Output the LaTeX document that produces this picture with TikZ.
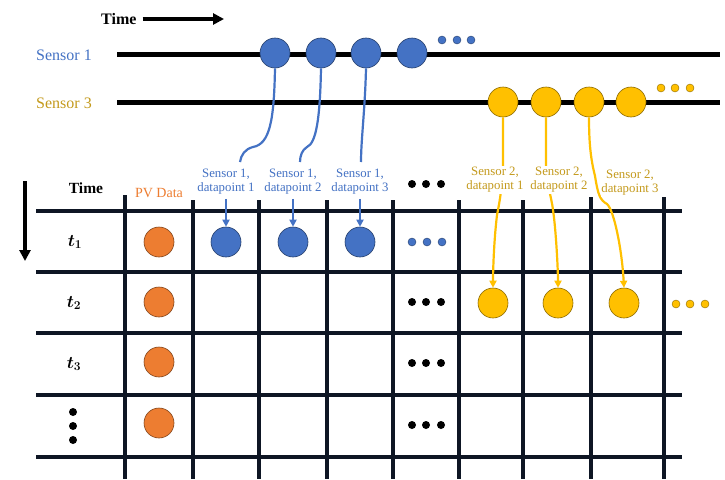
\documentclass[tikz,border=0pt]{standalone}
\usepackage{fontspec}
\setmainfont{Liberation Serif}
\usepackage{bm}
\usetikzlibrary{arrows.meta}
\definecolor{sblue}{HTML}{4472C4}
\definecolor{sorange}{HTML}{ED7D31}
\definecolor{syellow}{HTML}{FFC000}
\definecolor{sgold}{HTML}{C49A1C}
\definecolor{gridc}{HTML}{0E1624}
\tikzset{
  bigdot/.style={circle, minimum size=30pt, inner sep=0pt, fill=#1, draw=#1!55!black, line width=0.6pt},
  smalldot/.style={circle, minimum size=8pt, inner sep=0pt, fill=#1, draw=#1!55!black, line width=0.4pt},
  blackdot/.style={circle, minimum size=8pt, inner sep=0pt, fill=black},
  sensorline/.style={line width=5pt, black},
  gridline/.style={line width=3.6pt, gridc},
  timearrow/.style={line width=4pt, -{Triangle[length=11pt,width=11pt]}},
  lab/.style={align=center, font=\fontsize{12.8}{14.2}\selectfont, fill=white, inner sep=1pt},
  bluelink/.style={sblue, line width=2.2pt},
  bluearrow/.style={sblue, line width=2pt, -{Triangle[length=7pt,width=7pt]}},
  ylwlink/.style={syellow, line width=2.2pt, -{Triangle[length=7pt,width=7pt]}},
  rowlab/.style={font=\fontsize{16.5}{18}\selectfont},
}
\begin{document}
\begin{tikzpicture}[x=1pt,y=-1pt]
\useasboundingbox[fill=white] (0,0) rectangle (725,479);

% time axis (horizontal)
\node[font=\fontsize{16}{18}\selectfont\bfseries, anchor=west, inner sep=0pt] (ttop) at (101,19) {Time};
\coordinate (ttopend) at (224,19);
\draw[timearrow] (ttop.east) ++(6,0) coordinate (ttopstart) -- (ttopend);

% sensor streams
\node[text=sblue, font=\fontsize{16}{18}\selectfont, anchor=west, inner sep=0pt] (s1lab) at (36,55) {Sensor 1};
\node[text=sgold, font=\fontsize{16}{18}\selectfont, anchor=west, inner sep=0pt] (s3lab) at (36,103) {Sensor 3};
\draw[sensorline] (117,54) -- (720,54);
\draw[sensorline] (117,102) -- (720,102);

\node[bigdot=sblue] (b1) at (275,53) {};
\node[bigdot=sblue] (b2) at (321,53) {};
\node[bigdot=sblue] (b3) at (366,53) {};
\node[bigdot=sblue] (b4) at (412,53) {};
\node[smalldot=sblue] (bd1) at (442,40) {};
\node[smalldot=sblue] (bd2) at (457,40) {};
\node[smalldot=sblue] (bd3) at (471,40) {};

\node[bigdot=syellow] (y1) at (503,102) {};
\node[bigdot=syellow] (y2) at (546,102) {};
\node[bigdot=syellow] (y3) at (589,102) {};
\node[bigdot=syellow] (y4) at (631,102) {};
\node[smalldot=syellow] (yd1) at (661,88) {};
\node[smalldot=syellow] (yd2) at (675,88) {};
\node[smalldot=syellow] (yd3) at (690,88) {};

% table grid
\foreach \y in {211,272,333,395,457}
  \draw[gridline] (36,\y) -- (682,\y);
\draw[gridline] (125,195) -- (125,479);
\foreach \x in {193,259,327,393,459,523}
  \draw[gridline] (\x,200) -- (\x,479);
\foreach \x in {591,664}
  \draw[gridline] (\x,197) -- (\x,479);

% table header and row labels
\coordinate (tdown0) at (25,181);
\coordinate (tdown1) at (25,261);
\draw[timearrow] (tdown0) -- (tdown1);
\node[font=\fontsize{15.5}{17}\selectfont\bfseries] (thead) at (86,188) {Time};
\node[text=sorange, font=\fontsize{14}{16}\selectfont] (pvhead) at (159,193) {PV Data};
\node[rowlab] (r1) at (75,242) {$\bm{t_1}$};
\node[rowlab] (r2) at (74,303) {$\bm{t_2}$};
\node[rowlab] (r3) at (74,364) {$\bm{t_3}$};
\node[blackdot] (vd1) at (73,412) {};
\node[blackdot] (vd2) at (73,426) {};
\node[blackdot] (vd3) at (73,440) {};

% PV data column
\foreach \y [count=\i] in {242,302,362,423}
  \node[bigdot=sorange] (pv\i) at (159,\y) {};

% row 1: sensor 1 samples
\node[bigdot=sblue] (c11) at (226,242) {};
\node[bigdot=sblue] (c12) at (293,242) {};
\node[bigdot=sblue] (c13) at (360,242) {};
\node[smalldot=sblue] (cb1) at (412,242) {};
\node[smalldot=sblue] (cb2) at (427,242) {};
\node[smalldot=sblue] (cb3) at (442,242) {};

% row 2: sensor 2 samples
\node[bigdot=syellow] (c21) at (493,303) {};
\node[bigdot=syellow] (c22) at (558,303) {};
\node[bigdot=syellow] (c23) at (624,303) {};
\node[smalldot=syellow] (cy1) at (676,304) {};
\node[smalldot=syellow] (cy2) at (690,304) {};
\node[smalldot=syellow] (cy3) at (705,304) {};

% ellipsis column
\foreach \y [count=\i] in {184,302,363,425}{
  \node[blackdot] (e\i a) at (412,\y) {};
  \node[blackdot] (e\i b) at (426,\y) {};
  \node[blackdot] (e\i c) at (441,\y) {};
}

% sensor 1 links
\coordinate (l1end) at (240,162);
\coordinate (l2end) at (300,162);
\coordinate (l3end) at (361,162);
\draw[bluelink] (b1.south) .. controls (274,120) and (270,144) .. (253,147) .. controls (245,149) and (241,155) .. (l1end);
\draw[bluelink] (b2.south) .. controls (320,120) and (316,143) .. (307,147) .. controls (302,150) and (300,156) .. (l2end);
\draw[bluelink] (b3.south) .. controls (365,110) and (361,140) .. (l3end);

% sensor 2 links (drawn before the labels, which cover them)
\draw[ylwlink] (y1.south) -- (503,165) .. controls (502,190) and (499,205) .. (497,215) .. controls (494,240) and (493,270) .. (c21.north);
\draw[ylwlink] (y2.south) -- (546,165) .. controls (548,190) and (552,200) .. (553,210) .. controls (556,230) and (558,270) .. (c22.north);
\draw[ylwlink] (y3.south) .. controls (589,145) and (591,160) .. (595,176) .. controls (598,195) and (600,200) .. (607,204) .. controls (614,210) and (622,250) .. (c23.north);

% sample labels
\node[lab, text=sblue] (s11) at (226,182) {Sensor 1,\\datapoint 1};
\node[lab, text=sblue] (s12) at (293,182) {Sensor 1,\\datapoint 2};
\node[lab, text=sblue] (s13) at (360,182) {Sensor 1,\\datapoint 3};
\node[lab, text=sgold] (s21) at (495,180) {Sensor 2,\\datapoint 1};
\node[lab, text=sgold] (s22) at (559,180) {Sensor 2,\\datapoint 2};
\node[lab, text=sgold, inner xsep=0.5pt] (s23) at (630,183) {Sensor 2,\\datapoint 3};

% arrows into the table
\draw[bluearrow] (s11.south) ++(0,3) -- (c11.north);
\draw[bluearrow] (s12.south) ++(0,3) -- (c12.north);
\draw[bluearrow] (s13.south) ++(0,3) -- (c13.north);
\end{tikzpicture}
\end{document}
